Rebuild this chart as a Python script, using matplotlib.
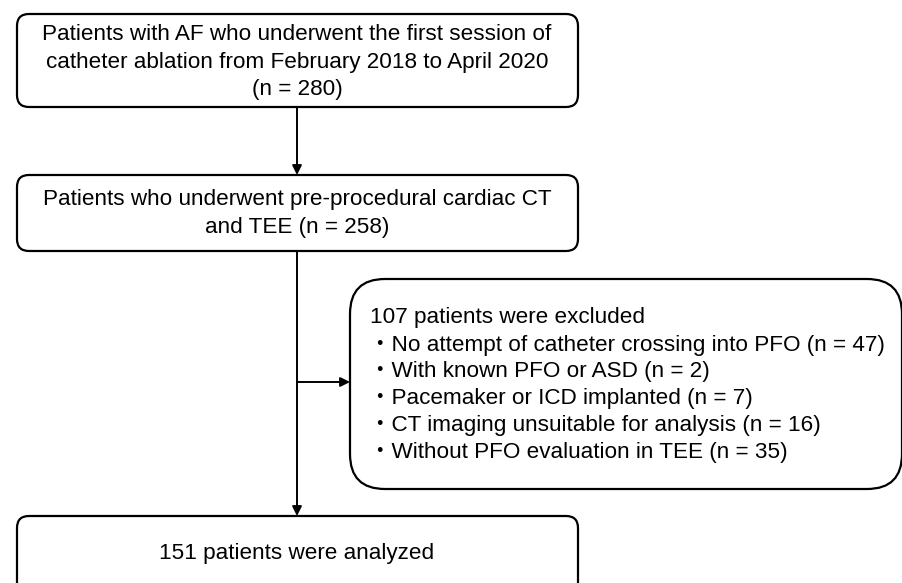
import matplotlib.pyplot as plt
from matplotlib.patches import FancyBboxPatch

# flowchart content
top_text = ["Patients with AF who underwent the first session of",
            "catheter ablation from February 2018 to April 2020",
            "(n = 280)"]
ct_text = ["Patients who underwent pre-procedural cardiac CT",
           "and TEE (n = 258)"]
excl_title = "107 patients were excluded"
excl_reasons = ["No attempt of catheter crossing into PFO",
                "With known PFO or ASD",
                "Pacemaker or ICD implanted",
                "CT imaging unsuitable for analysis",
                "Without PFO evaluation in TEE"]
excl_counts = [47, 2, 7, 16, 35]
final_text = ["151 patients were analyzed"]

fonts = ['Liberation Sans', 'Noto Sans CJK JP', 'DejaVu Sans']
fs = 16.2

fig = plt.figure(figsize=(9.03, 5.83), dpi=100)
ax = fig.add_axes([0, 0, 1, 1])
ax.set_xlim(0, 903)
ax.set_ylim(583, 0)
ax.axis('off')


def box(x0, y0, x1, y1, r):
    p = FancyBboxPatch((x0, y0), x1 - x0, y1 - y0,
                       boxstyle=f"round,pad=0,rounding_size={r}",
                       fc='white', ec='black', lw=1.6, zorder=2)
    ax.add_patch(p)


def arrow(x0, y0, x1, y1):
    ax.annotate("", xy=(x1, y1), xytext=(x0, y0),
                arrowprops=dict(arrowstyle='-|>', color='black', lw=1.4,
                                mutation_scale=14, shrinkA=0, shrinkB=0),
                zorder=1)


cx = 297
box(17, 14, 578, 107, 12)
for i, t in enumerate(top_text):
    ax.text(cx, 35 + i * 27.5, t, ha='center', va='center', fontsize=fs, family=fonts)

box(17, 175, 578, 251, 12)
for i, t in enumerate(ct_text):
    ax.text(cx, 200 + i * 27.5, t, ha='center', va='center', fontsize=fs, family=fonts)

box(350, 279, 902, 489, 35)
ax.text(370, 317, excl_title, ha='left', va='center', fontsize=fs, family=fonts)
for i, (t, n) in enumerate(zip(excl_reasons, excl_counts)):
    ax.text(369, 345 + i * 26.8, f"・{t} (n = {n})", ha='left', va='center',
            fontsize=fs, family=fonts)

box(17, 516, 578, 640, 12)
ax.text(cx, 553, final_text[0], ha='center', va='center', fontsize=fs, family=fonts)

arrow(cx, 107, cx, 175)
arrow(cx, 251, cx, 516)
arrow(cx, 382, 350, 382)

fig.savefig("out.png", dpi=100)
